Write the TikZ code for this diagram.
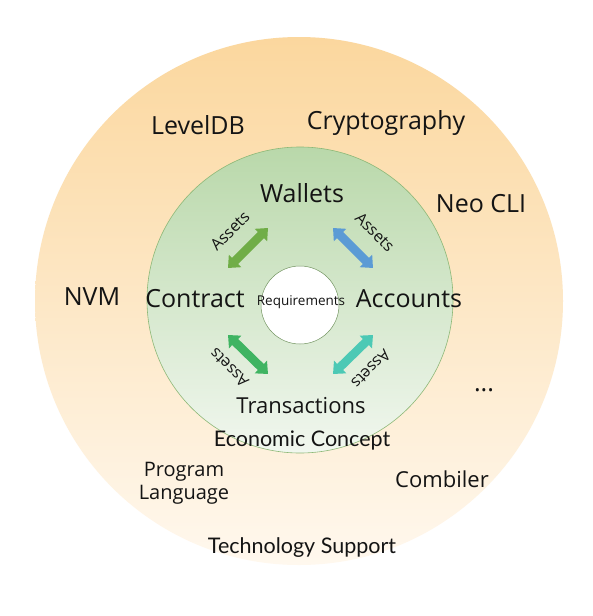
\documentclass[tikz,border=0pt]{standalone}
\usepackage{fontspec}
\setmainfont{Open Sans}
\newfontfamily\capfont{Lato}
\usetikzlibrary{arrows.meta,positioning}

\definecolor{outertop}{HTML}{FBD79E}
\definecolor{outerbot}{HTML}{FFF8EE}
\definecolor{greentop}{HTML}{B9D8AA}
\definecolor{greenbot}{HTML}{F1F7EF}
\definecolor{ringline}{HTML}{8DB877}
\definecolor{arrowA}{HTML}{70AD47}
\definecolor{arrowB}{HTML}{5B9BD5}
\definecolor{arrowC}{HTML}{3FB462}
\definecolor{arrowD}{HTML}{4CC9B5}
\definecolor{txt}{HTML}{141414}

\begin{document}
\begin{tikzpicture}[x=1pt,y=-1pt,
  big node/.style={text=txt,font=\fontsize{25}{28}\selectfont,inner sep=0pt},
  tech node/.style={text=txt,font=\fontsize{25}{28}\selectfont,inner sep=0pt},
  small node/.style={text=txt,font=\fontsize{20}{23}\selectfont,inner sep=0pt,align=center},
  cap node/.style={text=txt,font=\capfont\fontsize{21.5}{24}\selectfont,inner sep=0pt},
  asset node/.style={text=txt,font=\fontsize{16}{18}\selectfont,inner sep=0pt},
  asset arrow/.style={line width=8.5pt,{Triangle[width=17pt,length=10pt]}-{Triangle[width=17pt,length=10pt]}}]

  \useasboundingbox (0,0) rectangle (593,616);
  \fill[white] (0,0) rectangle (593,616);

  % rings
  \shade[top color=outertop,bottom color=outerbot] (299,301) circle (264);
  \shade[top color=greentop,bottom color=greenbot,draw=ringline,line width=0.6pt] (300,300) circle (153);
  \filldraw[fill=white,draw=ringline!80!black,line width=0.5pt] (300,305) circle (39);

  % technology support
  \node[tech node] (leveldb) at (198,125) {LevelDB};
  \node[tech node] (crypto) at (386,123) {Cryptography};
  \node[tech node] (neocli) at (481,204) {Neo CLI};
  \node[tech node] (nvm) at (92,297) {NVM};
  \node[tech node] (dots) at (484,390) {...};
  \node[small node] (proglang) at (184,483) {Program\\Language};
  \node[small node,font=\fontsize{22}{25}\selectfont] (combiler) at (442,479) {Combiler};
  \node[cap node] (techsup) at (302,548) {Technology Support};

  % economic concept
  \node[big node] (wallets) at (302,193) {Wallets};
  \node[big node] (contract) at (195,299) {Contract};
  \node[big node] (accounts) at (409,299) {Accounts};
  \node[big node,font=\fontsize{22}{25}\selectfont] (trans) at (301,406) {Transactions};
  \node[cap node] (econ) at (302,440) {Economic Concept};
  \node[text=txt,font=\fontsize{13.5}{15}\selectfont,inner sep=0pt] (req) at (301,302) {Requirements};

  \coordinate (cw1) at (228,268);
  \coordinate (cw2) at (268,228);
  \coordinate (wa1) at (333,228);
  \coordinate (wa2) at (373,268);
  \coordinate (ct1) at (228,335);
  \coordinate (ct2) at (268,374);
  \coordinate (ta1) at (333,374);
  \coordinate (ta2) at (373,335);

  \draw[asset arrow,draw=arrowA,fill=arrowA] (cw1) -- (cw2);
  \draw[asset arrow,draw=arrowB,fill=arrowB] (wa1) -- (wa2);
  \draw[asset arrow,draw=arrowC,fill=arrowC] (ct1) -- (ct2);
  \draw[asset arrow,draw=arrowD,fill=arrowD] (ta1) -- (ta2);

  \node[asset node,rotate=45] (assetA) at (230,231) {Assets};
  \node[asset node,rotate=-45] (assetB) at (375,232) {Assets};
  \node[asset node,rotate=135] (assetC) at (229,368) {Assets};
  \node[asset node,rotate=-135] (assetD) at (371,369) {Assets};

\end{tikzpicture}
\end{document}
